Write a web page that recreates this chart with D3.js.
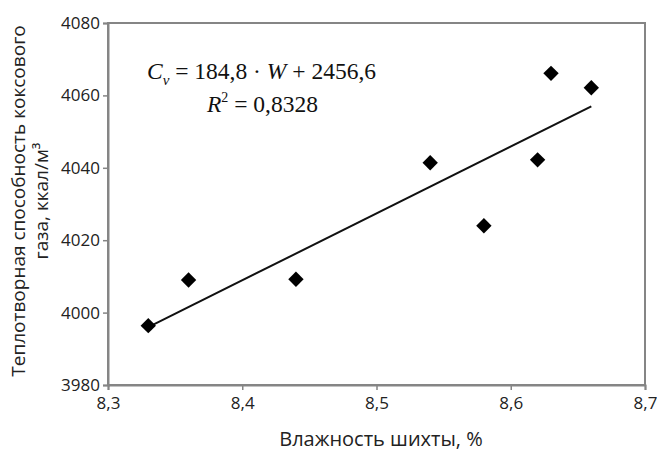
<!DOCTYPE html>
<html>
<head>
<meta charset="utf-8">
<script src="https://cdn.jsdelivr.net/npm/d3@7"></script>
<style>
  html, body { margin: 0; padding: 0; background: #fff; }
  svg { display: block; }
  .tick text { font-family: "Open Sans", "Noto Sans", sans-serif; fill: #222; }
</style>
</head>
<body>
<svg id="chart" width="657" height="455"></svg>
<script>
// ---- data ----
const moisture = [8.33, 8.36, 8.44, 8.54, 8.58, 8.62, 8.63, 8.66];
const heatValue = [3996.4, 4009.0, 4009.2, 4041.4, 4024.0, 4042.2, 4066.1, 4062.1];
const xTicks = [8.3, 8.4, 8.5, 8.6, 8.7];
const yTicks = [3980, 4000, 4020, 4040, 4060, 4080];
const trendCoef = [184.8, 2456.6]; // slope, intercept
const r2Label = ["0,8328"];
const xTitle = "Влажность шихты, %";
const yTitleLines = ["Теплотворная способность коксового", "газа, ккал/м³"];

// ---- layout ----
const W = 657, H = 455;
const m = { left: 108, right: 12, top: 23, bottom: 70 };
const svg = d3.select("#chart");
const pw = W - m.left - m.right, ph = H - m.top - m.bottom;

const x = d3.scaleLinear().domain([8.3, 8.7]).range([m.left, m.left + pw]);
const y = d3.scaleLinear().domain([3980, 4080]).range([m.top + ph, m.top]);
const fmt = d => String(d).replace(".", ",");
const axisColor = "#858585";

// frame (top & right borders)
svg.append("rect")
  .attr("x", x(8.3)).attr("y", y(4080))
  .attr("width", x(8.7) - x(8.3)).attr("height", y(3980) - y(4080))
  .attr("fill", "none").attr("stroke", axisColor).attr("stroke-width", 2);

// axes
const gx = svg.append("g").attr("transform", `translate(0,${y(3980)})`)
  .call(d3.axisBottom(x).tickValues(xTicks).tickFormat(fmt).tickSize(5).tickPadding(7));
const gy = svg.append("g").attr("transform", `translate(${x(8.3)},0)`)
  .call(d3.axisLeft(y).tickValues(yTicks).tickFormat(d3.format("d")).tickSize(5).tickPadding(3));
[gx, gy].forEach(g => {
  g.select(".domain").attr("stroke", axisColor).attr("stroke-width", 2);
  g.selectAll(".tick line").attr("stroke", axisColor).attr("stroke-width", 1.5);
  g.selectAll(".tick text").attr("font-size", 17).attr("fill", "#222");
});

// trend line
const x0 = d3.min(moisture), x1 = d3.max(moisture);
const line = d3.line().x(d => x(d[0])).y(d => y(d[1]));
svg.append("path")
  .datum([[x0, trendCoef[0] * x0 + trendCoef[1]], [x1, trendCoef[0] * x1 + trendCoef[1]]])
  .attr("d", line).attr("stroke", "#111").attr("stroke-width", 2).attr("fill", "none");

// markers (diamonds)
const diamond = d3.symbol().type(d3.symbolSquare).size(118);
svg.append("g").selectAll("path")
  .data(moisture.map((v, i) => [v, heatValue[i]]))
  .join("path")
  .attr("d", diamond)
  .attr("transform", d => `translate(${x(d[0])},${y(d[1])}) rotate(45)`)
  .attr("fill", "#000");

// equation
const serif = "'Liberation Serif', 'DejaVu Serif', serif";
const eq = svg.append("text").attr("x", 147).attr("y", 79)
  .attr("font-family", serif).attr("font-size", 23.5).attr("fill", "#111");
eq.append("tspan").attr("font-style", "italic").text("C");
eq.append("tspan").attr("font-style", "italic").attr("font-size", 15).attr("dy", 6).text("ν");
eq.append("tspan").attr("dy", -6).text(" = " + fmt(trendCoef[0]) + " · ");
eq.append("tspan").attr("font-style", "italic").text("W");
eq.append("tspan").text(" + " + fmt(trendCoef[1]));

const r2 = svg.append("text").attr("x", 207).attr("y", 112)
  .attr("font-family", serif).attr("font-size", 23.5).attr("fill", "#111");
r2.append("tspan").attr("font-style", "italic").text("R");
r2.append("tspan").attr("font-size", 14).attr("dy", -10).text("2");
r2.append("tspan").attr("dy", 10).text(" = " + r2Label[0]);

// axis titles
svg.append("text")
  .attr("x", 381).attr("y", 446)
  .attr("text-anchor", "middle")
  .attr("font-family", "'Open Sans', 'Noto Sans', sans-serif")
  .attr("font-size", 20).attr("fill", "#222")
  .text(xTitle);

const yt = svg.append("text")
  .attr("transform", `translate(0,${(y(3980) + y(4080)) / 2 - 3}) rotate(-90)`)
  .attr("text-anchor", "middle")
  .attr("font-family", "'Open Sans', 'Noto Sans', sans-serif")
  .attr("font-size", 19).attr("fill", "#222");
yTitleLines.forEach((t, i) => {
  yt.append("tspan").attr("x", 0).attr("y", 25 + i * 23).text(t);
});
</script>
</body>
</html>
